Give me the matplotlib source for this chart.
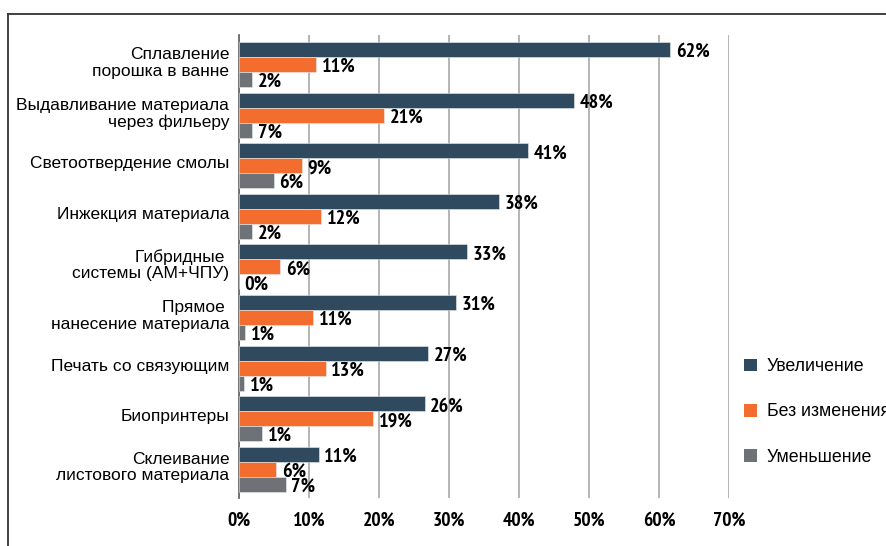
import matplotlib
matplotlib.use("Agg")
import matplotlib.pyplot as plt
from matplotlib.lines import Line2D
from matplotlib.patches import Patch
import numpy as np

categories = [
    "Сплавление\nпорошка в ванне",
    "Выдавливание материала\nчерез фильеру",
    "Светоотвердение смолы",
    "Инжекция материала",
    "Гибридные \nсистемы (АМ+ЧПУ)",
    "Прямое \nнанесение материала",
    "Печать со связующим",
    "Биопринтеры",
    "Склеивание\nлистового материала",
]
# bar lengths as drawn in the picture (%)
increase = [61.6, 47.9, 41.3, 37.1, 32.6, 31.0, 27.0, 26.5, 11.4]
unchanged = [11.0, 20.7, 9.0, 11.7, 5.9, 10.6, 12.4, 19.2, 5.3]
decrease = [1.9, 1.9, 5.0, 1.9, 0.0, 0.9, 0.7, 3.3, 6.7]
# printed value labels
increase_lbl = [62, 48, 41, 38, 33, 31, 27, 26, 11]
unchanged_lbl = [11, 21, 9, 12, 6, 11, 13, 19, 6]
decrease_lbl = [2, 7, 6, 2, 0, 1, 1, 1, 7]
series_names = ["Увеличение", "Без изменения", "Уменьшение"]
colors = ["#2F4A5E", "#F26D2E", "#6E7277"]
xticks = [0, 10, 20, 30, 40, 50, 60, 70]

NUM_FONT = ["PT Sans Narrow", "DejaVu Sans"]
TXT_FONT = ["Liberation Sans", "DejaVu Sans"]

fig = plt.figure(figsize=(8.87, 5.46), dpi=100)
ax = fig.add_axes([239 / 887, 1 - 498 / 546, (729 - 239) / 887, (498 - 35) / 546])

y = np.arange(len(categories))
h = 0.296
series = [(increase, increase_lbl), (unchanged, unchanged_lbl), (decrease, decrease_lbl)]
for k, ((vals, lbls), c, name) in enumerate(zip(series, colors, series_names)):
    ys = y + (k - 1) * h
    ax.barh(ys, vals, height=h, color=c, edgecolor="#e8ecef", linewidth=0.4,
            label=name, zorder=3)
    for yy, v, l in zip(ys, vals, lbls):
        ax.text(v + 0.8, yy + 0.05, f"{l}%", ha="left", va="center",
                fontsize=14.5, fontweight="bold", family=NUM_FONT, zorder=4)

ax.set_xlim(0, 70)
ax.set_ylim(8.567, -0.583)
ax.set_xticks(xticks)
ax.set_xticklabels([f"{t}%" for t in xticks], family=NUM_FONT,
                   fontweight="bold", fontsize=14)
ax.set_yticks(y - 0.07)
ax.set_yticklabels(categories, family=TXT_FONT, fontsize=12.5,
                   linespacing=1.1)
ax.tick_params(axis="x", length=0, pad=10)
ax.tick_params(axis="y", length=0, pad=7)
for t in ax.get_yticklabels():
    t.set_multialignment("right")

ax.grid(axis="x", color="#a0a0a0", linewidth=1.1, zorder=0)
for s in ["top", "right", "bottom"]:
    ax.spines[s].set_visible(False)
ax.spines["left"].set_color("#6a6a6a")
ax.spines["left"].set_linewidth(1.3)

handles = [Patch(facecolor=c, edgecolor="none") for c in colors]
fig.legend(handles, series_names, loc="center left",
           bbox_to_anchor=(744 / 887, 1 - 412 / 546), frameon=False,
           borderpad=0, borderaxespad=0, handlelength=0.72, handleheight=0.72,
           handletextpad=0.55, labelspacing=1.6,
           prop={"family": TXT_FONT, "size": 12.8})

# outer frame lines (top and left)
fig.add_artist(Line2D([8 / 887, 1], [1 - 14 / 546, 1 - 14 / 546],
                      color="#333333", linewidth=1.3, transform=fig.transFigure))
fig.add_artist(Line2D([8 / 887, 8 / 887], [0, 1 - 14 / 546],
                      color="#333333", linewidth=1.3, transform=fig.transFigure))

fig.savefig("out.png", dpi=100)
